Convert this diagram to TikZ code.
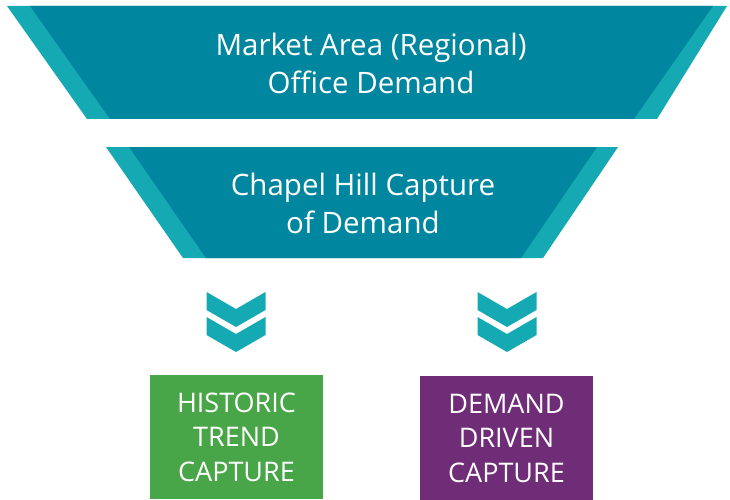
\documentclass[tikz,border=0pt]{standalone}
\usepackage{fontspec}
\setmainfont{Open Sans}
\definecolor{darkteal}{HTML}{00869E}
\definecolor{lightteal}{HTML}{15A9B3}
\definecolor{histgreen}{HTML}{48A648}
\definecolor{drivepurple}{HTML}{702D77}
\begin{document}
\begin{tikzpicture}[x=1pt,y=-1pt,
  bandtext/.style={text=white,align=center,font=\fontsize{29.5}{38}\selectfont},
  boxtext/.style={text=white,align=center,font=\fontsize{27}{34.5}\selectfont},
  chev/.style={fill=lightteal,draw=none}]
\useasboundingbox (0,0) rectangle (730,500);
% top band
\fill[lightteal] (7,6) -- (727,6) -- (657,119) -- (87,119) -- cycle;
\fill[darkteal] (30,6) -- (713,6) -- (634,119) -- (110,119) -- cycle;
\node[bandtext] (market) at (371,63) {Market Area (Regional)\\Office Demand};
% second band
\fill[lightteal] (106,147) -- (618,147) -- (543,258) -- (183,258) -- cycle;
\fill[darkteal] (129,147) -- (597,147) -- (521,258) -- (206,258) -- cycle;
\node[bandtext] (chapel) at (363,203) {Chapel Hill Capture\\of Demand};
% chevrons
\foreach \cx/\nm in {236/left,507/right}{
  \fill[chev] (\cx-29.5,292) -- (\cx,309) -- (\cx+29.5,292) -- (\cx+29.5,310) -- (\cx,327) -- (\cx-29.5,310) -- cycle;
  \fill[chev] (\cx-29.5,317) -- (\cx,334) -- (\cx+29.5,317) -- (\cx+29.5,335) -- (\cx,352) -- (\cx-29.5,335) -- cycle;
}
% boxes
\node[boxtext,fill=histgreen,minimum width=173pt,minimum height=124pt,inner sep=0pt] (hist) at (236.5,437) {HISTORIC\\TREND\\CAPTURE};
\node[boxtext,fill=drivepurple,minimum width=173pt,minimum height=124pt,inner sep=0pt] (demand) at (506.5,438) {DEMAND\\DRIVEN\\CAPTURE};
\end{tikzpicture}
\end{document}
